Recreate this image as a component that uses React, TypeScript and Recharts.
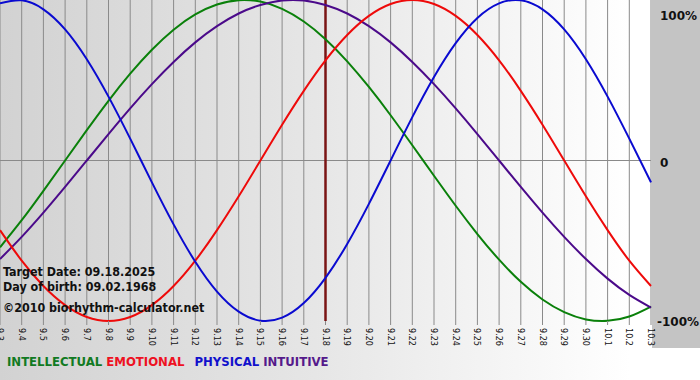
import React from "react";
import { LineChart, Line, XAxis, YAxis, CartesianGrid, ReferenceLine } from "recharts";

const dayLabels = ["9.3","9.4","9.5","9.6","9.7","9.8","9.9","9.10","9.11","9.12","9.13","9.14","9.15","9.16","9.17","9.18","9.19","9.20","9.21","9.22","9.23","9.24","9.25","9.26","9.27","9.28","9.29","9.30","10.1","10.2","10.3"];

const intellectual = [-54.1,-37.2,-18.9,0,18.9,37.2,54.1,69.0,81.5,91.0,97.2,99.9,99.0,94.5,86.6,75.6,61.8,45.8,28.2,9.5,-9.5,-28.2,-45.8,-61.8,-75.6,-86.6,-94.5,-99.0,-99.9,-97.2,-91.0];
const emotional = [-43.4,-62.4,-78.2,-90.1,-97.5,-100,-97.5,-90.1,-78.2,-62.4,-43.4,-22.3,0,22.3,43.4,62.4,78.2,90.1,97.5,100,97.5,90.1,78.2,62.4,43.4,22.3,0,-22.3,-43.4,-62.4,-78.2];
const physical = [97.9,99.8,94.2,81.7,63.1,39.8,13.6,-13.6,-39.8,-63.1,-81.7,-94.2,-99.8,-97.9,-88.8,-73.1,-52.0,-27.0,0,27.0,52.0,73.1,88.8,97.9,99.8,94.2,81.7,63.1,39.8,13.6,-13.6];
const intuitive = [-61.4,-47.6,-32.5,-16.5,0,16.5,32.5,47.6,61.4,73.6,83.7,91.6,96.9,99.7,99.7,96.9,91.6,83.7,73.6,61.4,47.6,32.5,16.5,0,-16.5,-32.5,-47.6,-61.4,-73.6,-83.7,-91.6];

const targetIndex = 15;
const yTicks = [-100, 0, 100];

const data = dayLabels.map((label, i) => ({
  i,
  label,
  intellectual: intellectual[i],
  emotional: emotional[i],
  physical: physical[i],
  intuitive: intuitive[i],
}));

const FONT = "'DejaVu Sans Condensed', 'DejaVu Sans', sans-serif";

const XTick = (props: any) => {
  const { x, y, payload } = props;
  return (
    <text
      transform={`translate(${x},${y}) rotate(90)`}
      x={1}
      y={3}
      fontSize={9}
      fontFamily={FONT}
      fill="#111"
      textAnchor="start"
    >
      {dayLabels[payload.value]}
    </text>
  );
};

const YTick = (props: any) => {
  const { x, y, payload } = props;
  const v = payload.value;
  const off = v === 100 ? 11 : v === 0 ? 6 : 5;
  const dx = v === -100 ? -2 : 1;
  return (
    <text
      x={x + dx}
      y={y + off}
      fontSize={12}
      fontWeight="bold"
      fontFamily="'DejaVu Sans', sans-serif"
      fill="#111"
      textAnchor="start"
    >
      {v === 0 ? "0" : `${v}%`}
    </text>
  );
};

export default function App() {
  return (
    <div
      style={{
        position: "absolute",
        left: 0,
        top: 0,
        width: 700,
        height: 380,
        overflow: "hidden",
        background: "linear-gradient(to right, #d2d2d2 0%, #e6e6e6 45%, #ffffff 90%)",
        fontFamily: FONT,
      }}
    >
      <div
        style={{
          position: "absolute",
          left: 652,
          top: 0,
          width: 48,
          height: 348,
          background: "#c4c4c4",
        }}
      />
      <div style={{ position: "absolute", left: 0, top: 0 }}>
        <LineChart
          width={700}
          height={350}
          data={data}
          margin={{ top: 0, right: 0, left: 0, bottom: 0 }}
        >
          <CartesianGrid horizontal={false} vertical stroke="#8a8a8a" strokeWidth={1} />
          <XAxis
            dataKey="i"
            type="number"
            domain={[0, 30]}
            ticks={data.map((d) => d.i)}
            interval={0}
            height={29}
            axisLine={false}
            tickLine={{ stroke: "#8a8a8a" }}
            tickSize={4}
            tick={<XTick />}
          />
          <YAxis
            orientation="right"
            domain={[-100, 100]}
            ticks={yTicks}
            width={49}
            axisLine={false}
            tickLine={false}
            tick={<YTick />}
          />
          <ReferenceLine y={0} stroke="#8a8a8a" strokeWidth={1} />
          <ReferenceLine x={targetIndex} stroke="#7a1414" strokeWidth={2.5} />
          <Line type="natural" dataKey="intellectual" stroke="#0a800a" strokeWidth={2} dot={false} activeDot={false} isAnimationActive={false} />
          <Line type="natural" dataKey="intuitive" stroke="#4b0a8a" strokeWidth={2} dot={false} activeDot={false} isAnimationActive={false} />
          <Line type="natural" dataKey="emotional" stroke="#ee0a0a" strokeWidth={2} dot={false} activeDot={false} isAnimationActive={false} />
          <Line type="natural" dataKey="physical" stroke="#0a0ad0" strokeWidth={2} dot={false} activeDot={false} isAnimationActive={false} />
        </LineChart>
      </div>
      <div
        style={{
          position: "absolute",
          left: 3,
          top: 264,
          fontSize: 12.4,
          fontWeight: "bold",
          color: "#111",
          lineHeight: "15px",
          whiteSpace: "nowrap",
        }}
      >
        <div>Target Date: 09.18.2025</div>
        <div>Day of birth: 09.02.1968</div>
        <div style={{ marginTop: 6 }}>©2010 biorhythm-calculator.net</div>
      </div>
      <div
        style={{
          position: "absolute",
          left: 7,
          top: 354,
          fontSize: 13,
          fontWeight: "bold",
          whiteSpace: "nowrap",
          lineHeight: "15px",
        }}
      >
        <span style={{ color: "#117a22" }}>INTELLECTUAL</span>{" "}
        <span style={{ color: "#ee1122" }}>EMOTIONAL</span>{"  "}
        <span style={{ color: "#1111cc", marginLeft: 6 }}>PHYSICAL</span>{" "}
        <span style={{ color: "#551a8b" }}>INTUITIVE</span>
      </div>
    </div>
  );
}
